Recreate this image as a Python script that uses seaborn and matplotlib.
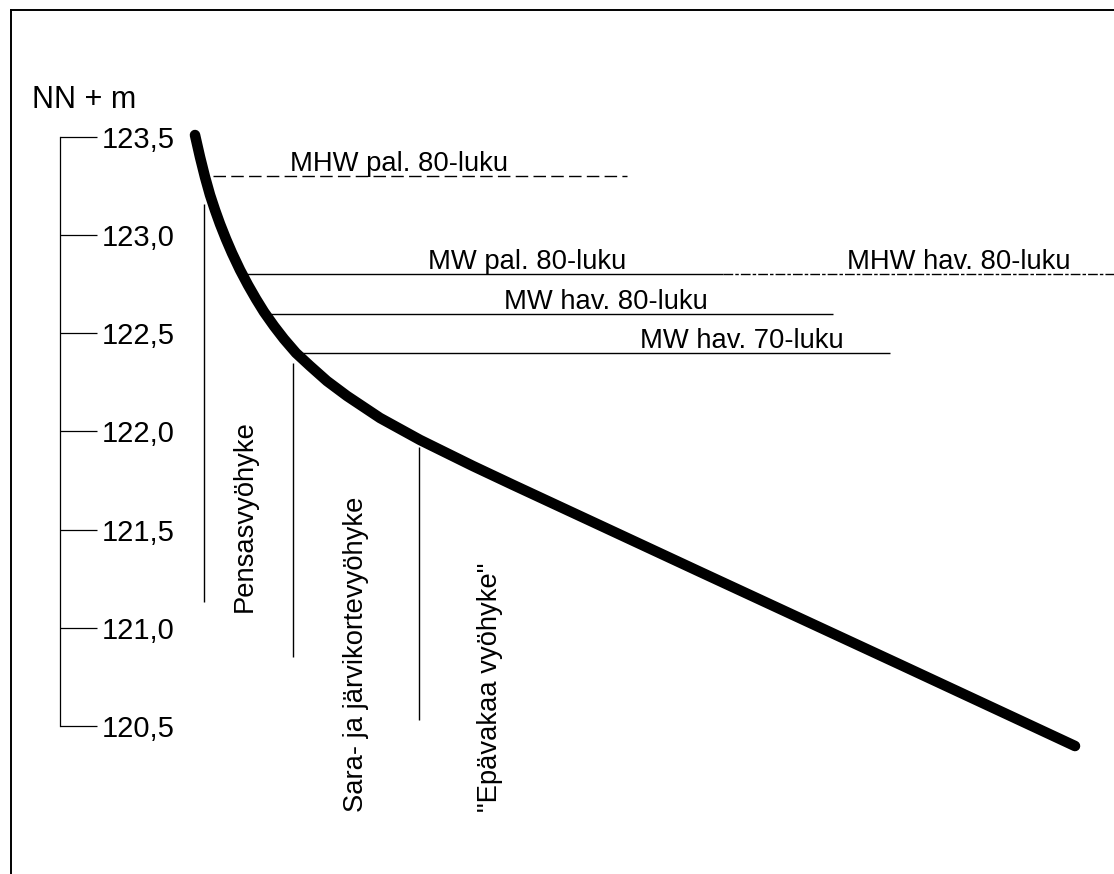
import matplotlib
matplotlib.use("Agg")
import matplotlib.pyplot as plt
import seaborn as sns
import pandas as pd
from matplotlib.transforms import offset_copy

W, H, DPI = 1114, 874, 100

# Shore profile: horizontal distance (drawing units) and elevation (NN + m)
profile_x = [195, 200, 205, 210, 215, 220, 226, 232, 240, 248, 256, 264, 274,
             284, 296, 310, 327, 347, 380, 420, 473, 513, 600, 700, 800, 900,
             1000, 1075]
profile_z = [123.510, 123.398, 123.296, 123.205, 123.128, 123.057, 122.980,
             122.909, 122.823, 122.746, 122.675, 122.609, 122.537, 122.471,
             122.400, 122.334, 122.257, 122.181, 122.069, 121.957, 121.824,
             121.728, 121.522, 121.285, 121.049, 120.813, 120.576, 120.398]

# Water levels
level_names = ["MHW pal. 80-luku", "MW pal. 80-luku", "MHW hav. 80-luku",
               "MW hav. 80-luku", "MW hav. 70-luku"]
level_z = [123.30, 122.80, 122.80, 122.60, 122.40]
level_x0 = [213, 243, 723, 263, 302]
level_x1 = [627, 723, 1114, 833, 890]
level_label_x = [290, 428, 847, 504, 640]

# Vegetation zones
zone_names = ["Pensasvyöhyke", "Sara- ja järvikortevyöhyke", '"Epävakaa vyöhyke"']
zone_x = [204, 293, 419]
zone_top = [123.16, 122.35, 121.92]
zone_bottom = [121.13, 120.85, 120.53]
zone_label_x = [252, 363, 497]
zone_label_z = [121.08, 120.06, 120.06]

# Elevation axis
tick_values = [120.5, 121.0, 121.5, 122.0, 122.5, 123.0, 123.5]
tick_labels = ["120,5", "121,0", "121,5", "122,0", "122,5", "123,0", "123,5"]

sns.set_theme(style="white")
plt.rcParams["font.family"] = ["Liberation Sans", "DejaVu Sans"]

fig = plt.figure(figsize=(W / DPI, H / DPI), dpi=DPI)
fig.patch.set_facecolor("white")

# pixel-like horizontal scale, metres vertically
px_per_m = 196.33
def z_of(py):
    return 123.5 - (py - 137) / px_per_m

ax = fig.add_axes([11 / W, 0, (W - 11 + 20) / W, (H - 10) / H])
ax.set_xlim(11, W + 20)
ax.set_ylim(z_of(H), z_of(10))
ax.set_facecolor("white")

# frame
for side in ("left", "top"):
    ax.spines[side].set_visible(True)
    ax.spines[side].set_color("black")
    ax.spines[side].set_linewidth(1.4)
ax.spines["bottom"].set_visible(False)

# elevation scale drawn on the right spine moved to x = 60
ax.yaxis.tick_right()
ax.spines["right"].set_position(("data", 60))
ax.spines["right"].set_bounds(tick_values[0], tick_values[-1])
ax.spines["right"].set_color("black")
ax.spines["right"].set_linewidth(0.9)
ax.set_yticks(tick_values)
ax.set_yticklabels(tick_labels)
ax.tick_params(axis="y", which="major", right=True, left=False, direction="out",
               length=26.5, width=0.9, color="black", pad=3.5,
               labelsize=21, labelcolor="black")
ax.set_xticks([])
ax.grid(False)

fig.text(32 / W, 1 - 108 / H, "NN + m", fontsize=22, color="black", va="baseline")

# profile curve
df = pd.DataFrame({"x": profile_x, "z": profile_z})
sns.lineplot(data=df, x="x", y="z", ax=ax, color="black", linewidth=7.6,
             sort=False, estimator=None, solid_capstyle="round",
             solid_joinstyle="round", zorder=5)
ax.set_xlabel("")
ax.set_ylabel("")

# water levels
styles = [(0, (9, 3.8)), "-", (0, (7, 1.5, 2.5, 1.5)), "-", "-"]
above = offset_copy(ax.transData, fig=fig, x=0, y=5, units="dots")
for name, z, x0, x1, lx, ls in zip(level_names, level_z, level_x0, level_x1,
                                   level_label_x, styles):
    ax.hlines(z, x0, x1, colors="black", linewidth=1.0, linestyles=ls, zorder=3)
    ax.text(lx, z, name, transform=above, fontsize=19.7, color="black",
            ha="left", va="baseline")

# zone boundaries and labels
ax.vlines(zone_x, zone_bottom, zone_top, colors="black", linewidth=1.0, zorder=3)
for name, lx, lz in zip(zone_names, zone_label_x, zone_label_z):
    ax.text(lx, lz, name, rotation=90, rotation_mode="anchor", fontsize=19.7,
            color="black", ha="left", va="baseline")

fig.savefig("out.png", dpi=DPI, facecolor="white")
